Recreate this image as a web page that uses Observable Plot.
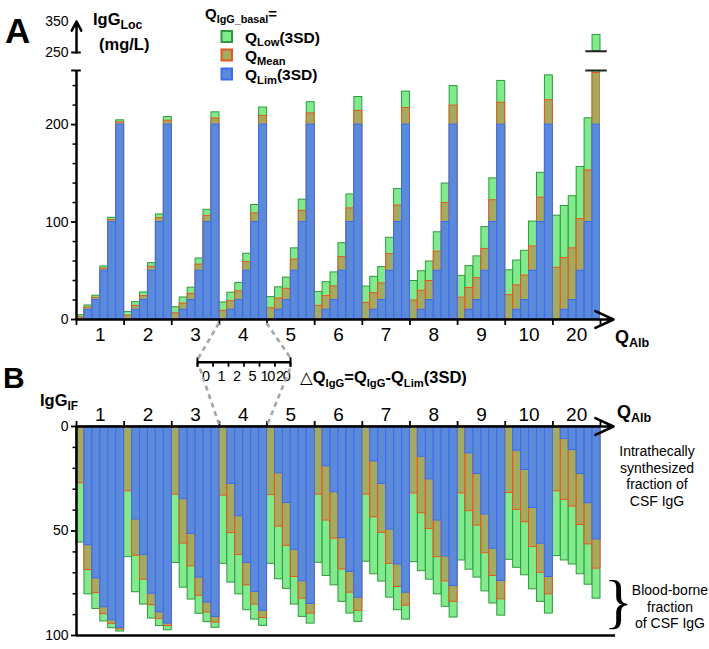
<!DOCTYPE html>
<html>
<head>
<meta charset="utf-8">
<script src="https://cdn.jsdelivr.net/npm/d3@7"></script>
<script src="https://cdn.jsdelivr.net/npm/@observablehq/plot@0.6"></script>
<style>
  html, body { margin: 0; padding: 0; background: #fff; }
  #chart { position: relative; width: 709px; height: 649px; overflow: hidden;
           font-family: "Liberation Sans", Arial, Helvetica, sans-serif; color: #000; }
  #chart svg { position: absolute; left: 0; overflow: visible; }
  #chart svg.mini-axis text { letter-spacing: -1.3px; }
</style>
</head>
<body>
<div id="chart"></div>
<script>
// ---------------- data ----------------
const qAlb = ["1", "2", "3", "4", "5", "6", "7", "8", "9", "10", "20"];   // QAlb groups
const dQ = ["0", "1", "2", "5", "10", "20"];                                // ΔQIgG within each group
const zoomGroup = "4";

// Panel A: IgGLoc (mg/L); rows = QAlb groups, columns = ΔQIgG
const locLim = [
  [0, 10, 20, 50, 100, 200], [0, 10, 20, 50, 100, 200], [0, 10, 20, 50, 100, 200],
  [0, 10, 20, 50, 100, 200], [0, 10, 20, 50, 100, 200], [0, 10, 20, 50, 100, 200],
  [0, 10, 20, 50, 100, 200], [0, 10, 20, 50, 100, 200], [0, 10, 20, 50, 100, 200],
  [0, 10, 20, 50, 100, 200], [0, 10, 20, 50, 100, 200]
];
const locMean = [
  [2.2, 12.2, 22.2, 52.2, 102.2, 202.2],
  [4, 14, 24, 54, 104, 204],
  [6.3, 16.3, 26.3, 56.3, 106.3, 206.3],
  [8.9, 18.9, 28.9, 58.9, 108.9, 208.9],
  [11.5, 21.5, 31.5, 61.5, 111.5, 211.5],
  [14, 24, 34, 64, 114, 214],
  [17, 27, 37, 67, 117, 217],
  [19.5, 29.5, 39.5, 69.5, 119.5, 219.5],
  [22.4, 32.4, 42.4, 72.4, 122.4, 222.4],
  [25, 35, 45, 75, 125, 225],
  [53, 63, 73, 103, 153, 253]
];
const locLow = [
  [4.4, 14.4, 24.4, 54.4, 104.4, 204.4],
  [7.8, 17.8, 27.8, 57.8, 107.8, 207.8],
  [12.6, 22.6, 32.6, 62.6, 112.6, 212.6],
  [17.5, 27.5, 37.5, 67.5, 117.5, 217.5],
  [23, 33, 43, 73, 123, 223],
  [28.3, 38.3, 48.3, 78.3, 128.3, 228.3],
  [33.8, 43.8, 53.8, 83.8, 133.8, 233.8],
  [39.5, 49.5, 59.5, 89.5, 139.5, 239.5],
  [44.8, 54.8, 64.8, 94.8, 144.8, 244.8],
  [50.5, 60.5, 70.5, 100.5, 150.5, 250.5],
  [106.5, 116.5, 126.5, 156.5, 206.5, 306.5]
];

// Panel B: IgG IF (%)
const ifLim = [
  [0, 56.8, 72.7, 86.5, 92.7, 96.3],
  [0, 44.5, 61.5, 80, 88.9, 94.3],
  [0, 34.8, 51.4, 72.3, 84.2, 91.2],
  [0, 27.5, 42.9, 65.3, 79.2, 88.2],
  [0, 22.4, 36.6, 59, 74.1, 84.9],
  [0, 19.1, 31.5, 53.4, 69.6, 81.9],
  [0, 16.7, 27.5, 49.3, 66, 79.5],
  [0, 14.5, 25.3, 45, 62.2, 76.3],
  [0, 12.9, 22.7, 42.1, 58.5, 73.9],
  [0, 11.6, 20.8, 39, 56.1, 72],
  [0, 6, 11.3, 22.7, 36.7, 54]
];
const ifMean = [
  [27.2, 68.7, 79.7, 89.8, 94.4, 97.1],
  [31, 61.8, 73.3, 85.5, 92, 95.5],
  [32.6, 56, 66.9, 81, 89, 93.8],
  [33.1, 51, 61.5, 76, 85.2, 91.6],
  [32.8, 47.9, 57.1, 72, 82.4, 89.5],
  [32.6, 45, 53.7, 68.4, 79.5, 88.2],
  [32.6, 43.4, 50.9, 65.7, 76.8, 85.7],
  [32, 41.5, 49, 62.5, 74.1, 83.9],
  [32, 40.5, 47.4, 60.6, 71.5, 82.7],
  [31.8, 39.9, 45.8, 57.7, 70, 80.3],
  [31, 35.1, 38.3, 47.1, 56.4, 68]
];
const ifLow = [
  [55.5, 80.3, 87.3, 93.3, 96.5, 98.1],
  [62.5, 79.3, 85.2, 91.9, 95.5, 97.5],
  [65.3, 77.1, 82.8, 89.6, 93.6, 96.3],
  [65.7, 74.7, 80.3, 87.9, 92.4, 95.4],
  [65.7, 73.1, 77.7, 85.2, 91.1, 94.3],
  [65.2, 71.5, 76, 83.9, 89.5, 93.5],
  [64.7, 70.7, 74.2, 81.9, 87.9, 92.4],
  [64.9, 69.2, 73.3, 80.3, 86.3, 91.4],
  [64.1, 68.5, 72.3, 78.9, 84.7, 90.5],
  [63.8, 67.6, 71.2, 77.9, 83.9, 89.5],
  [62, 64.1, 66, 70.7, 75.7, 82.4]
];

const ticksA = [0, 100, 200];
const minorA = [20, 40, 60, 80, 120, 140, 160, 180, 220, 240];
const ticksAUp = [250, 350];
const ticksB = [0, 50, 100];
const minorB = [10, 20, 30, 40, 60, 70, 80, 90];
const breakLow = 255.5;   // top of lower segment of the broken axis
const breakHigh = 254;    // start of the upper segment

// ---------------- styles ----------------
const C = {
  low: "#80ea8c", lowStroke: "#2f9a3d",
  mean: "#a3ab60", meanStroke: "#e8561d",
  lim: "#5a8ad8", limStroke: "#3c6cf0",
  dash: "#a6a6a6"
};
const FONT = '"Liberation Sans", Arial, Helvetica, sans-serif';
const W = 709;
const plotStyle = { fontFamily: FONT, color: "#000", background: "transparent", overflow: "visible" };

// ---------------- derived tables ----------------
const groupSize = dQ.length;
const nBars = qAlb.length * groupSize;
const boundaries = d3.range(0, nBars + 1, groupSize);
const groupCenters = qAlb.map((_, gi) => gi * groupSize + groupSize / 2);
const groupLabel = v => qAlb[Math.floor(v / groupSize)];
const xArrowEnd = nBars + 1.64;

const rowsA = [], rowsB = [];
qAlb.forEach((g, gi) => dQ.forEach((d, di) => {
  const i = gi * groupSize + di;
  rowsA.push({ i, group: g, dq: d, lim: locLim[gi][di], mean: locMean[gi][di], low: locLow[gi][di] });
  rowsB.push({ i, group: g, dq: d, lim: ifLim[gi][di], mean: ifMean[gi][di], low: ifLow[gi][di] });
}));
const layers = [["low", C.low, C.lowStroke], ["mean", C.mean, C.meanStroke], ["lim", C.lim, C.limStroke]];
function bars(rows, base, extra = {}) {
  return layers.map(([key, fill, stroke]) =>
    Plot.rect(rows.filter(d => d[key] > base), {
      x1: "i", x2: d => d.i + 1, y1: base, y2: key,
      fill, stroke, strokeWidth: 1, ...extra
    }));
}
const brokenRows = rowsA.filter(d => d.low > breakLow);
const brokenCenter = brokenRows.length ? brokenRows[0].i + 0.5 : nBars - 0.5;

const chart = document.getElementById("chart");
function place(svg, top) { svg.style.top = top + "px"; chart.appendChild(svg); return svg; }

// ---------------- Panel A, lower segment ----------------
const topA = 0;
const plotA = Plot.plot({
  width: W, height: 345, marginTop: 70, marginBottom: 26, marginLeft: 76, marginRight: 109,
  style: plotStyle,
  x: { domain: [0, nBars], label: null },
  y: { domain: [0, breakLow], label: null },
  marks: [
    ...bars(rowsA, 0, { clip: true }),
    Plot.ruleX([0], { y1: 0, y2: breakLow, strokeWidth: 2.5 }),
    Plot.ruleY([breakLow], { x1: -0.6, x2: 0.6, strokeWidth: 2 }),
    Plot.ruleY([breakLow], { x1: brokenCenter - 1.35, x2: brokenCenter + 1.35, strokeWidth: 2, stroke: "#222" }),
    Plot.axisY({ ticks: ticksA, tickSize: 5, tickPadding: 3, fontSize: 14, strokeWidth: 1.8, label: null }),
    Plot.axisY({ ticks: minorA, tickSize: 3.5, tickFormat: () => "", strokeWidth: 1.5, label: null }),
    Plot.axisX({ ticks: boundaries, tickSize: 6, tickFormat: () => "", strokeWidth: 1.8, label: null }),
    Plot.axisX({ ticks: groupCenters, tickSize: 0, tickPadding: 8, tickFormat: groupLabel, fontSize: 19, label: null }),
    Plot.arrow([0], { x1: 0, y1: 0, x2: xArrowEnd, y2: 0, strokeWidth: 2.5, headLength: 12, headAngle: 50 })
  ]
});
place(plotA, topA);

// ---------------- Panel A, upper segment ----------------
const plotAUp = Plot.plot({
  width: W, height: 60, marginTop: 21, marginBottom: 8, marginLeft: 76, marginRight: 109,
  style: plotStyle,
  x: { domain: [0, nBars], axis: null },
  y: { domain: [250, 350], label: null },
  marks: [
    ...layers.map(([key, fill, stroke]) =>
      Plot.rect(rowsA.filter(d => d[key] > breakHigh), {
        x1: "i", x2: d => d.i + 1, y1: breakHigh, y2: key, fill, stroke, strokeWidth: 1
      })),
    Plot.ruleY([breakHigh], { x1: brokenCenter - 1.35, x2: brokenCenter + 1.35, strokeWidth: 2, stroke: "#222" }),
    Plot.arrow([0], { x1: 0, y1: 250, x2: 0, y2: 350, strokeWidth: 2.5, headLength: 10, headAngle: 55 }),
    Plot.ruleY([250], { x1: -0.6, x2: 0.6, strokeWidth: 2 }),
    Plot.axisY({ ticks: ticksAUp, tickSize: 0, tickPadding: 8, fontSize: 14, label: null })
  ]
});
place(plotAUp, topA);

// ---------------- zoom axis (ΔQIgG) ----------------
const topMini = 345;
const plotMini = Plot.plot({
  width: W, height: 45, marginTop: 6.7, marginBottom: 28.3, marginLeft: 197, marginRight: 419,
  style: plotStyle,
  x: { domain: [0, groupSize], label: null },
  y: { domain: [0, 1], axis: null },
  marks: [
    Plot.ruleY([0], { x1: 0, x2: groupSize, strokeWidth: 2.5 }),
    Plot.ruleX([0, groupSize], { y1: -0.5, y2: 0.45, strokeWidth: 2 }),
    Plot.axisX({ ticks: d3.range(groupSize + 1), tickSize: 5, tickFormat: () => "", strokeWidth: 1.8, label: null }),
    Plot.axisX({ ticks: d3.range(groupSize).map(k => k + 0.5), tickSize: 0, tickPadding: 9,
                 tickFormat: v => dQ[Math.floor(v)], fontSize: 14.5, label: null })
  ]
});
plotMini.classList.add("mini-axis");
place(plotMini, topMini);

// ---------------- Panel B ----------------
const topB = 390;
const plotB = Plot.plot({
  width: W, height: 259, marginTop: 36, marginBottom: 14, marginLeft: 76, marginRight: 109,
  style: plotStyle,
  x: { domain: [0, nBars], label: null },
  y: { domain: [0, 100], reverse: true, label: null },
  marks: [
    ...bars(rowsB, 0),
    Plot.ruleX([0], { y1: 0, y2: 100, strokeWidth: 2.5 }),
    Plot.ruleY([100], { x1: 0, x2: nBars + 1.9, strokeWidth: 2.5 }),
    Plot.axisY({ ticks: ticksB, tickSize: 5, tickPadding: 3, fontSize: 14, strokeWidth: 1.8, label: null }),
    Plot.axisY({ ticks: minorB, tickSize: 3.5, tickFormat: () => "", strokeWidth: 1.5, label: null }),
    Plot.axisX({ anchor: "top", ticks: boundaries, tickSize: 6, tickFormat: () => "", strokeWidth: 1.8, label: null }),
    Plot.axisX({ anchor: "top", ticks: groupCenters, tickSize: 0, tickPadding: 6, tickFormat: groupLabel, fontSize: 19, label: null }),
    Plot.arrow([0], { x1: 0, y1: 0, x2: xArrowEnd, y2: 0, strokeWidth: 2.5, headLength: 12, headAngle: 50 })
  ]
});
place(plotB, topB);

// ---------------- overlay: connectors, legend, annotations ----------------
const ov = d3.create("svg").attr("width", W).attr("height", 649)
  .style("top", "0px").style("pointer-events", "none")
  .attr("font-family", FONT);

// dashed connectors derived from the plots' scales
const gz = qAlb.indexOf(zoomGroup);
const i0 = gz * groupSize, i1 = i0 + groupSize;
const xa0 = plotA.scale("x").apply(i0), xa1 = plotA.scale("x").apply(i1);
const yAaxis = topA + plotA.scale("y").apply(0);
const xm0 = plotMini.scale("x").apply(0), xm1 = plotMini.scale("x").apply(groupSize);
const yMini = topMini + plotMini.scale("y").apply(0);
const xb0 = plotB.scale("x").apply(i0), xb1 = plotB.scale("x").apply(i1);
const yBaxis = topB + plotB.scale("y").apply(0);
const connectors = [
  [xa0, yAaxis + 4, xm0 + 1, yMini - 3],
  [xa1, yAaxis + 4, xm1 + 1, yMini - 3],
  [xm0 + 3, yMini + 7, xb0, yBaxis - 2],
  [xm1, yMini + 7, xb1 + 1, yBaxis - 2]
];
ov.selectAll("line.conn").data(connectors).join("line").attr("class", "conn")
  .attr("x1", d => d[0]).attr("y1", d => d[1]).attr("x2", d => d[2]).attr("y2", d => d[3])
  .attr("stroke", C.dash).attr("stroke-width", 2.6).attr("stroke-dasharray", "5,4");

function rich(x, y, parts, { size = 16, weight = "bold", anchor = "start", subRatio = 0.7, subShift = 3.5, family = null } = {}) {
  const t = ov.append("text").attr("x", x).attr("y", y).attr("font-size", size)
    .attr("font-weight", weight).attr("text-anchor", anchor).attr("fill", "#000");
  if (family) t.attr("font-family", family);
  let shift = 0;
  for (const [s, sub] of parts) {
    const target = sub ? subShift : 0;
    t.append("tspan").attr("dy", target - shift).attr("font-size", sub ? size * subRatio : size).text(s);
    shift = target;
  }
  return t;
}

// panel letters
rich(5, 43, [["A"]], { size: 35 });
rich(3, 388, [["B"]], { size: 30 });

// Panel A titles
rich(93, 25, [["IgG"], ["Loc", true]], { size: 16.5, subRatio: 0.75 });
rich(99, 50, [["(mg/L)"]], { size: 16.5 });
rich(205, 19, [["Q"], ["IgG_basal", true], ["="]], { size: 15, subRatio: 0.72 });

// legend
const legend = [
  [C.low, C.lowStroke, [["Q"], ["Low", true], ["(3SD)"]]],
  [C.mean, C.meanStroke, [["Q"], ["Mean", true]]],
  [C.lim, C.limStroke, [["Q"], ["Lim", true], ["(3SD)"]]]
];
const legTop = [31, 49.5, 68.5];
legend.forEach(([fill, stroke, parts], k) => {
  ov.append("rect").attr("x", 221.5).attr("y", legTop[k]).attr("width", 10.5).attr("height", 11)
    .attr("fill", fill).attr("stroke", stroke).attr("stroke-width", 2);
  rich(245, legTop[k] + 11.8, parts, { size: 15.5, subRatio: 0.72 });
});

// axis titles
rich(615, 343, [["Q"], ["Alb", true]], { size: 18, subRatio: 0.7 });
rich(617, 418, [["Q"], ["Alb", true]], { size: 18, subRatio: 0.7 });
rich(40, 406, [["IgG"], ["IF", true]], { size: 16.5, subRatio: 0.72 });

// ΔQIgG label
const dl = rich(300, 383, [["△"], ["Q"], ["IgG", true], ["=Q"], ["IgG", true], ["-Q"], ["Lim", true], ["(3SD)"]],
  { size: 16.5, subRatio: 0.68 });
dl.select("tspan").attr("font-weight", "normal").attr("font-family", "DejaVu Sans");

// right-hand annotations
const intra = ["Intrathecally", "synthesized", "fraction of", "CSF IgG"];
intra.forEach((s, k) => rich(657, 456 + k * 16.5, [[s]], { size: 14, weight: "normal", anchor: "middle" }));
const blood = ["Blood-borne", "fraction", "of CSF IgG"];
blood.forEach((s, k) => rich(670, 595 + k * 16.5, [[s]], { size: 14, weight: "normal", anchor: "middle" }));
rich(604, 621, [["}"]], { size: 60, weight: "normal", family: '"Liberation Serif", "DejaVu Serif", serif' });

chart.appendChild(ov.node());
</script>
</body>
</html>
